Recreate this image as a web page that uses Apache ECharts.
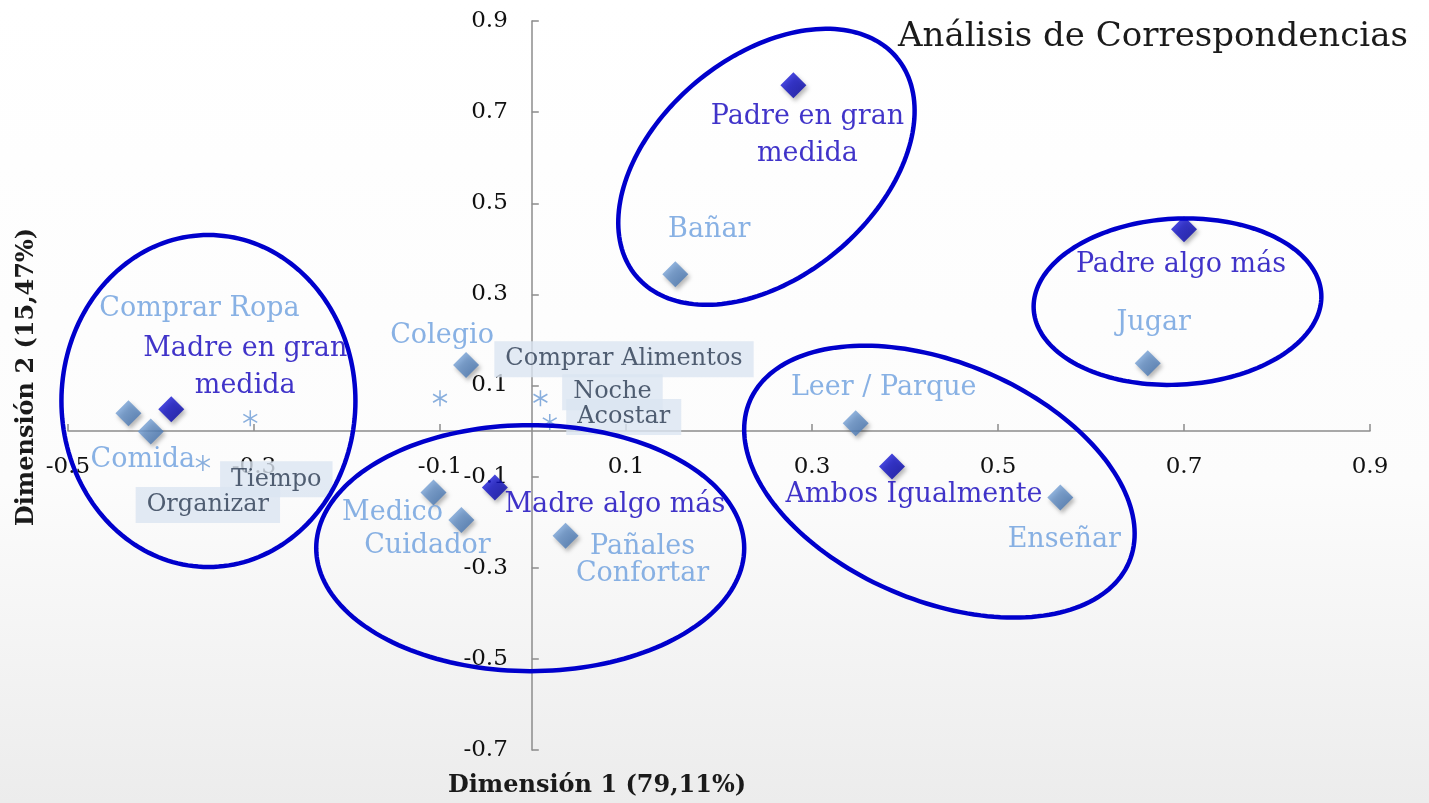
<!DOCTYPE html>
<html><head><meta charset="utf-8">
<script src="https://cdn.jsdelivr.net/npm/echarts@6/dist/echarts.min.js"></script>
<style>html,body{margin:0;padding:0;background:#fff}#c{width:1429px;height:803px}</style>
</head><body><div id="c"></div>
<script>
// ---------- data ----------
const xTickLabels = ['-0.5','-0.3','-0.1','0.1','0.3','0.5','0.7','0.9'];
const yTickLabels = ['-0.7','-0.5','-0.3','-0.1','0.1','0.3','0.5','0.7','0.9'];

const rowCategories = ['Padre en gran medida','Padre algo más','Madre en gran medida','Madre algo más','Ambos Igualmente'];
const rowDim1 = [0.280, 0.700, -0.389, -0.041, 0.386];
const rowDim2 = [0.759, 0.443, 0.048, -0.124, -0.078];

const colCategories = ['Bañar','Jugar','Comprar Ropa','Comida','Colegio','Leer / Parque','Enseñar','Medico','Cuidador','Pañales Confortar'];
const colDim1 = [0.153, 0.661, -0.435, -0.411, -0.072, 0.347, 0.567, -0.107, -0.077, 0.035];
const colDim2 = [0.344, 0.149, 0.039, -0.001, 0.145, 0.017, -0.146, -0.135, -0.195, -0.230];

const suppCategories = ['Comprar Alimentos','Noche','Acostar','Tiempo','Organizar'];
const suppDim1 = [-0.100, 0.008, 0.018, -0.304, -0.355];
const suppDim2 = [0.072, 0.072, 0.020, 0.028, -0.070];

// ---------- annotation / layout config ----------
// group ellipses: centre in data units, semi-axes in px, tilt in degrees (screen, clockwise)
const ellipseCx = [-0.349, 0.251, 0.693, -0.003, 0.437];
const ellipseCy = [0.066, 0.580, 0.284, -0.257, -0.111];
const ellipseRx = [147, 170, 144, 214, 206];
const ellipseRy = [166, 110, 83, 123, 119];
const ellipseTilt = [0, -40, -3, 0, 23];

const labelOffsets = {
  'Padre en gran medida':[14,50], 'Padre algo más':[-3,36], 'Madre en gran medida':[74,-42],
  'Madre algo más':[120,17], 'Ambos Igualmente':[22,28],
  'Bañar':[34,-44], 'Jugar':[6,-40], 'Comprar Ropa':[71,-104], 'Comida':[-8,28], 'Colegio':[-24,-29],
  'Leer / Parque':[28,-35], 'Enseñar':[4,42], 'Medico':[-41,20], 'Cuidador':[-34,26], 'Pañales Confortar':[77,25],
  'Comprar Alimentos':[184,-39], 'Noche':[72,-6], 'Acostar':[74,-5], 'Tiempo':[26,61], 'Organizar':[5,42]
};
const labelText = {
  'Padre en gran medida':'Padre en gran\nmedida',
  'Madre en gran medida':'Madre en gran\nmedida',
  'Pañales Confortar':'Pañales\nConfortar'
};

const FONT = 'DejaVu Serif';

function pts(names, xs, ys) {
  return names.map((n, i) => ({
    name: n, value: [xs[i], ys[i]],
    label: { offset: labelOffsets[n] || [0, 0] }
  }));
}

const chart = echarts.init(document.getElementById('c'));
const grad = (a, b) => new echarts.graphic.LinearGradient(0, 0, 1, 1, [{offset:0,color:a},{offset:1,color:b}]);
const fmt = arr => v => { const s = arr.find(t => Math.abs(parseFloat(t) - v) < 1e-6); return s === undefined ? '' : s; };
const axisCol = '#8c8c8c';

chart.setOption({
  backgroundColor: new echarts.graphic.LinearGradient(0, 0, 0, 1, [
    {offset:0, color:'#ffffff'}, {offset:0.6, color:'#fcfcfc'}, {offset:1, color:'#ececec'}]),
  animation: false,
  grid: { left: 68, right: 59, top: 21, bottom: 53, containLabel: false },
  xAxis: {
    type: 'value', min: -0.5, max: 0.9, interval: 0.2, position: 'bottom',
    axisLine: { onZero: false, lineStyle: { color: axisCol, width: 1.5 } },
    axisTick: { show: true, inside: true, length: 7, lineStyle: { color: axisCol, width: 1.5 } },
    axisLabel: { margin: 24, color: '#111', fontFamily: FONT, fontSize: 23, formatter: fmt(xTickLabels) },
    splitLine: { show: false }
  },
  yAxis: {
    type: 'value', min: -0.7, max: 0.9, interval: 0.2, position: 'left',
    axisLine: { show: true, onZero: false, lineStyle: { color: axisCol, width: 1.5 } },
    axisTick: { show: true, inside: true, length: 7, lineStyle: { color: axisCol, width: 1.5 } },
    axisLabel: { margin: 24, color: '#111', fontFamily: FONT, fontSize: 23, formatter: fmt(yTickLabels) },
    splitLine: { show: false }
  },
  graphic: [
    { type: 'text', left: 898, top: 20, style: { text: 'Análisis de Correspondencias', fill: '#1a1a1a', font: '34px "DejaVu Serif"' } },
    { type: 'text', x: 597, y: 786, style: { text: 'Dimensión 1 (79,11%)', fill: '#1a1a1a', font: 'bold 24px "DejaVu Serif"', align: 'center', verticalAlign: 'middle' } },
    { type: 'text', x: 27, y: 377, rotation: Math.PI / 2, style: { text: 'Dimensión 2 (15,47%)', fill: '#1a1a1a', font: 'bold 24px "DejaVu Serif"', align: 'center', verticalAlign: 'middle' } }
  ],
  series: [
    {
      name: 'Variables', type: 'scatter', symbol: 'diamond', symbolSize: 26, z: 3,
      data: pts(colCategories, colDim1, colDim2),
      itemStyle: { color: grad('#86b0e2', '#3a69a6'), shadowBlur: 4, shadowOffsetX: 2, shadowOffsetY: 3, shadowColor: 'rgba(0,0,0,0.35)' },
      label: { show: true, position: 'inside', formatter: p => labelText[p.name] || p.name,
        color: '#6a9ddd', fontFamily: FONT, fontSize: 27, lineHeight: 27, align: 'center', verticalAlign: 'middle' }
    },
    {
      name: 'Responsable', type: 'scatter', symbol: 'diamond', symbolSize: 26, z: 4,
      data: pts(rowCategories, rowDim1, rowDim2),
      itemStyle: { color: grad('#1e1ee6', '#00009a'), shadowBlur: 4, shadowOffsetX: 2, shadowOffsetY: 3, shadowColor: 'rgba(0,0,0,0.35)' },
      label: { show: true, position: 'inside', formatter: p => labelText[p.name] || p.name,
        color: '#1000bb', fontFamily: FONT, fontSize: 27, lineHeight: 37, align: 'center', verticalAlign: 'middle' }
    },
    {
      name: 'Suplementarias', type: 'scatter', z: 2,
      symbol: 'path://M10,0 L10,20 M1.34,5 L18.66,15 M1.34,15 L18.66,5',
      symbolSize: 16, symbolKeepAspect: true,
      data: pts(suppCategories, suppDim1, suppDim2),
      itemStyle: { color: 'rgba(0,0,0,0)', borderColor: '#6a9ad4', borderWidth: 1.5 },
      label: { show: true, position: 'inside', formatter: p => p.name,
        color: '#2b3a50', fontFamily: FONT, fontSize: 24, align: 'center', verticalAlign: 'middle',
        backgroundColor: '#dbe5f1', padding: [7, 11, 5, 11] }
    },
    {
      name: 'Grupos', type: 'custom', z: 5, silent: true,
      data: ellipseCx.map((cx, i) => [cx, ellipseCy[i], ellipseRx[i], ellipseRy[i], ellipseTilt[i]]),
      renderItem: (params, api) => {
        const c = api.coord([api.value(0), api.value(1)]);
        const rx = api.value(2), ry = api.value(3), th = api.value(4) * Math.PI / 180;
        const points = [];
        for (let k = 0; k < 180; k++) {
          const t = k / 180 * 2 * Math.PI;
          const ex = rx * Math.cos(t), ey = ry * Math.sin(t);
          points.push([c[0] + ex * Math.cos(th) - ey * Math.sin(th), c[1] + ex * Math.sin(th) + ey * Math.cos(th)]);
        }
        return { type: 'polygon', shape: { points }, style: { fill: 'none', stroke: '#0000cc', lineWidth: 4.5 } };
      }
    }
  ]
});

// move both axes (line, ticks and labels) to cross at the origin, using the chart's own scales
const zeroX = chart.convertToPixel({ xAxisIndex: 0 }, 0);
const zeroY = chart.convertToPixel({ yAxisIndex: 0 }, 0);
const leftX = chart.convertToPixel({ xAxisIndex: 0 }, -0.5);
const bottomY = chart.convertToPixel({ yAxisIndex: 0 }, -0.7);
chart.setOption({
  xAxis: { offset: -(bottomY - zeroY) },
  yAxis: { offset: -(zeroX - leftX) }
});
</script></body></html>
